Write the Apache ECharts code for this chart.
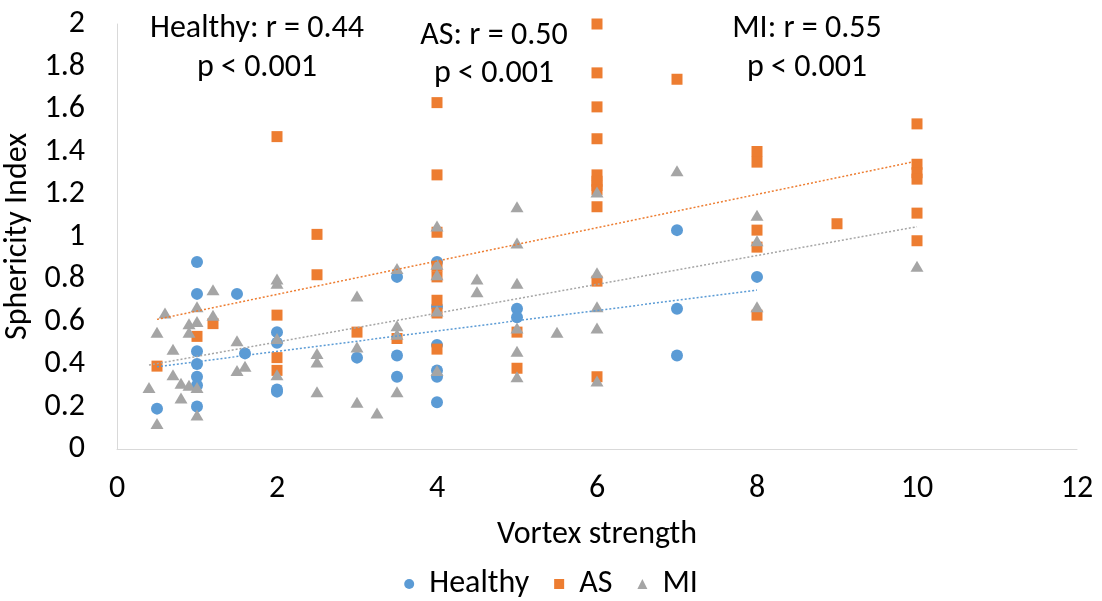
<!DOCTYPE html>
<html>
<head>
<meta charset="utf-8">
<style>
  html, body { margin: 0; padding: 0; background: #ffffff; }
  #chart { width: 1102px; height: 601px; }
</style>
<script src="https://cdn.jsdelivr.net/npm/echarts@6/dist/echarts.min.js"></script>
</head>
<body>
<div id="chart"></div>
<script>
// Vortex strength (x) vs sphericity index (y) per patient group
const healthy = [
  [0.5, 0.19], [1, 0.88], [1, 0.73], [1, 0.46], [1, 0.40], [1, 0.34], [1, 0.30], [1, 0.20],
  [1.5, 0.73], [1.6, 0.45], [2, 0.55], [2, 0.50], [2, 0.28], [2, 0.27], [3, 0.43],
  [3.5, 0.81], [3.5, 0.44], [3.5, 0.34], [4, 0.88], [4, 0.67], [4, 0.49], [4, 0.37],
  [4, 0.34], [4, 0.22], [5, 0.66], [5, 0.62], [7, 1.03], [7, 0.66], [7, 0.44], [8, 0.81]
];
const as = [
  [0.5, 0.39], [1, 0.53], [1.2, 0.59], [2, 1.47], [2, 0.63], [2, 0.43], [2, 0.37],
  [2.5, 1.01], [2.5, 0.82], [3, 0.55], [3.5, 0.52], [4, 1.63], [4, 1.29], [4, 1.02],
  [4, 0.86], [4, 0.81], [4, 0.70], [4, 0.64], [4, 0.47], [5, 0.55], [5, 0.38],
  [6, 2.00], [6, 1.77], [6, 1.61], [6, 1.46], [6, 1.29], [6, 1.26], [6, 1.24], [6, 1.22],
  [6, 1.14], [6, 0.79], [6, 0.34], [7, 1.74], [8, 1.40], [8, 1.35], [8, 1.03], [8, 0.95],
  [8, 0.63], [9, 1.06], [10, 1.53], [10, 1.34], [10, 1.30], [10, 1.27], [10, 1.11], [10, 0.98]
];
const mi = [
  [0.4, 0.29], [0.5, 0.55], [0.5, 0.12], [0.6, 0.64], [0.7, 0.47], [0.7, 0.35], [0.8, 0.31],
  [0.8, 0.24], [0.9, 0.59], [0.9, 0.55], [0.9, 0.30], [1, 0.67], [1, 0.60], [1, 0.29],
  [1, 0.16], [1.2, 0.75], [1.2, 0.63], [1.5, 0.51], [1.5, 0.37], [1.6, 0.39], [2, 0.80],
  [2, 0.78], [2, 0.52], [2, 0.35], [2.5, 0.45], [2.5, 0.41], [2.5, 0.27], [3, 0.72],
  [3, 0.48], [3, 0.22], [3.25, 0.17], [3.5, 0.85], [3.5, 0.58], [3.5, 0.54], [3.5, 0.27],
  [4, 1.05], [4, 0.87], [4, 0.82], [4, 0.65], [4, 0.37], [4.5, 0.80], [4.5, 0.74],
  [5, 1.14], [5, 0.97], [5, 0.78], [5, 0.57], [5, 0.46], [5, 0.34], [5.5, 0.55],
  [6, 1.21], [6, 0.83], [6, 0.67], [6, 0.57], [6, 0.32], [7, 1.31], [8, 1.10], [8, 0.98],
  [8, 0.67], [10, 0.86]
];

// Linear trend line end points per group
const healthyTrend = [[0.5, 0.387], [8, 0.748]];
const asTrend = [[0.5, 0.61], [10, 1.355]];
const miTrend = [[0.4, 0.395], [10, 1.046]];

// Correlation annotations
const statLines = [
  ['Healthy: r = 0.44', 'p < 0.001'],
  ['AS: r = 0.50', 'p < 0.001'],
  ['MI: r = 0.55', 'p < 0.001']
];

const groupNames = ['Healthy', 'AS', 'MI'];
const colors = ['#5B9BD5', '#ED7D31', '#A5A5A5'];
const FONT = 'Carlito, Calibri, "Liberation Sans Narrow", sans-serif';

const chart = echarts.init(document.getElementById('chart'), null, { renderer: 'canvas' });

function trend(data, color) {
  return {
    type: 'line',
    data: data,
    showSymbol: false,
    symbol: 'none',
    silent: true,
    z: 5,
    lineStyle: { color: color, width: 1.5, type: [2, 2] }
  };
}

const annotPos = [
  [257, 29, 68],
  [494, 36, 74],
  [807, 29, 68]
];
const graphics = [];
statLines.forEach((lines, i) => {
  lines.forEach((t, j) => {
    graphics.push({
      type: 'text',
      x: annotPos[i][0],
      y: annotPos[i][j + 1],
      style: {
        text: t,
        fill: '#000000',
        font: '32px ' + FONT,
        textAlign: 'center',
        textVerticalAlign: 'middle'
      }
    });
  });
});

chart.setOption({
  animation: false,
  backgroundColor: '#ffffff',
  textStyle: { fontFamily: FONT },
  grid: {
    left: 117, right: 25, top: 24, bottom: 152,
    containLabel: false,
    outerBoundsMode: 'none'
  },
  legend: {
    data: [
      { name: 'Healthy', icon: 'circle' },
      { name: 'AS', icon: 'rect' },
      { name: 'MI', icon: 'triangle' }
    ],
    left: 'center',
    top: 563,
    itemWidth: 10,
    itemHeight: 10,
    itemGap: 25,
    textStyle: { fontSize: 32, color: '#000000', fontFamily: FONT, padding: [0, 0, 0, 10] }
  },
  xAxis: {
    type: 'value',
    min: 0,
    max: 12,
    interval: 2,
    name: 'Vortex strength',
    nameLocation: 'middle',
    nameGap: 70,
    nameTextStyle: { fontSize: 32, color: '#000000', fontFamily: FONT },
    axisLine: { show: true, lineStyle: { color: '#D9D9D9', width: 1 } },
    axisTick: { show: false },
    splitLine: { show: false },
    axisLabel: { fontSize: 32, color: '#000000', margin: 24, fontFamily: FONT }
  },
  yAxis: {
    type: 'value',
    min: 0,
    max: 2,
    interval: 0.2,
    name: 'Sphericity Index',
    nameLocation: 'middle',
    nameRotate: 90,
    nameGap: 74,
    nameTextStyle: { fontSize: 32, color: '#000000', fontFamily: FONT },
    axisLine: { show: true, lineStyle: { color: '#D9D9D9', width: 1 } },
    axisTick: { show: false },
    splitLine: { show: false },
    axisLabel: {
      fontSize: 32, color: '#000000', margin: 32, fontFamily: FONT,
      formatter: v => String(Math.round(v * 10) / 10)
    }
  },
  series: [
    { name: 'Healthy', type: 'scatter', data: healthy, symbol: 'circle', symbolSize: 12,
      itemStyle: { color: colors[0], opacity: 1 }, z: 2 },
    { name: 'AS', type: 'scatter', data: as, symbol: 'rect', symbolSize: 11,
      itemStyle: { color: colors[1], opacity: 1 }, z: 3 },
    { name: 'MI', type: 'scatter', data: mi, symbol: 'triangle', symbolSize: [13, 11],
      itemStyle: { color: colors[2], opacity: 1 }, z: 4 },
    trend(healthyTrend, colors[0]),
    trend(asTrend, colors[1]),
    trend(miTrend, colors[2])
  ],
  graphic: graphics
});
</script>
</body>
</html>
